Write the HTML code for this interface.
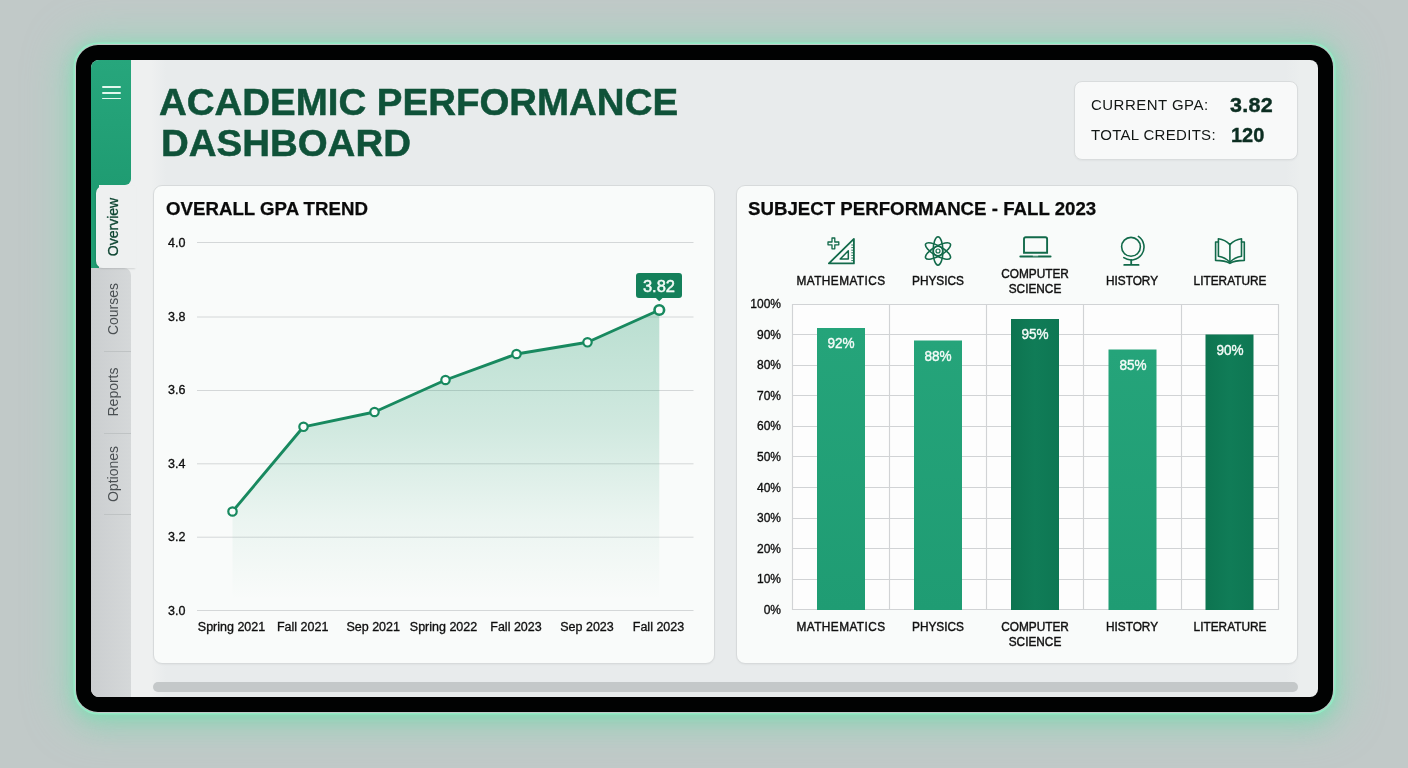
<!DOCTYPE html>
<html lang="en">
<head>
<meta charset="utf-8">
<title>Academic Performance Dashboard</title>
<style>
*{box-sizing:border-box;margin:0;padding:0}
html,body{width:1408px;height:768px;overflow:hidden}
body{position:relative;background:#c1c9c8;font-family:"Liberation Sans",sans-serif;color:#111}
.abs{position:absolute}
.glow{position:absolute;left:75px;top:44px;width:1259px;height:669px;border-radius:23px;
  box-shadow:0 0 0 1.5px #93ebc5,0 1px 12px 2px rgba(120,225,178,.55),0 2px 38px 11px rgba(138,222,186,.56),0 14px 24px -6px rgba(100,205,158,.42)}
.frame{position:absolute;left:76px;top:45px;width:1257px;height:667px;border-radius:22px;background:#010202}
.screen{position:absolute;left:91px;top:60px;width:1227px;height:637px;border-radius:8px;overflow:hidden;
  background:linear-gradient(90deg,#eef0f0 40px,#eef0f0 60px,#e8ebec 75px,#e8ebec calc(100% - 32px),#ebeeee calc(100% - 18px))}
/* everything inside .screen is positioned in page coordinates via this shifted layer */
.layer{position:absolute;left:-91px;top:-60px;width:1408px;height:768px}
.sb-green{left:91px;top:60px;width:40px;height:125px;background:linear-gradient(180deg,#27a67c,#1f9c72);border-bottom-right-radius:6px}
.sb-green2{left:91px;top:180px;width:8px;height:88px;background:#1f9c72}
.sb-gray{left:91px;top:268px;width:40px;height:430px;background:linear-gradient(90deg,#cbced0,#d5d8d9);border-top-right-radius:7px}
.tab-on{left:96px;top:186px;width:40px;height:82px;background:#eef0f0;border-radius:7px 0 0 7px;box-shadow:-1px 1px 2px rgba(0,0,0,.12)}
.sep{left:104px;width:27px;height:1px;background:#bfc3c4}
.vt{position:absolute;white-space:nowrap;transform:translate(-50%,-50%) rotate(-90deg);font-size:14px;color:#4b5053;line-height:1}
.ham{left:102px;width:18.5px;height:1.9px;background:#e2f8ee;border-radius:1px}
h1{position:absolute;left:159px;font-weight:bold;font-size:36px;line-height:36px;color:#0f5239;white-space:nowrap;transform-origin:0 50%;transform:scaleX(1.068);-webkit-text-stroke:.5px #0f5239}
.card{position:absolute;background:#f9fbfa;border:1px solid #d7dadb;border-radius:9px;box-shadow:0 1px 2px rgba(0,0,0,.04)}
.ct{position:absolute;font-weight:bold;font-size:18.6px;line-height:18px;color:#0a0a0a;white-space:nowrap;transform-origin:0 50%;transform:scaleX(1.004);-webkit-text-stroke:.25px #0a0a0a}
.stat-l{position:absolute;left:1091px;font-size:14px;line-height:14px;letter-spacing:.45px;color:#121715;white-space:nowrap;transform-origin:0 50%;transform:scaleX(1.07)}
.stat-v{position:absolute;font-weight:bold;font-size:20px;line-height:20px;color:#0c2e22;white-space:nowrap;transform-origin:0 50%;-webkit-text-stroke:.4px #0c2e22}
.yl{position:absolute;font-size:12.5px;line-height:13px;color:#0e0e0e;white-space:nowrap;-webkit-text-stroke:.32px #0e0e0e}
.xl{position:absolute;font-size:12.5px;line-height:13px;color:#111;white-space:nowrap;transform:translateX(-50%);-webkit-text-stroke:.32px #0e0e0e}
.pl{position:absolute;width:50px;text-align:right;font-size:12px;line-height:12px;color:#0e0e0e;white-space:nowrap;-webkit-text-stroke:.32px #0e0e0e}
.cat{position:absolute;font-size:12.3px;line-height:15.3px;color:#111;text-align:center;white-space:nowrap;transform:translateX(-50%) scaleX(.962);-webkit-text-stroke:.42px #111}
.bar{position:absolute;width:48px}
.bl{position:absolute;color:#f4fbf8;font-size:14.6px;line-height:14px;transform:translateX(-50%) scaleX(.93);white-space:nowrap;-webkit-text-stroke:.4px #f4fbf8}
svg{position:absolute;left:0;top:0;overflow:visible}
</style>
</head>
<body>
<div class="glow"></div>
<div class="frame"></div>
<div class="screen"><div class="layer">

<!-- sidebar -->
<div class="abs sb-gray"></div>
<div class="abs sb-green2"></div>
<div class="abs sb-green"></div>
<div class="abs tab-on"></div>
<div class="abs ham" style="top:85.7px"></div>
<div class="abs ham" style="top:91.7px"></div>
<div class="abs ham" style="top:97.6px"></div>
<div class="vt" style="left:112.5px;top:226.8px;color:#0d4531;-webkit-text-stroke:.3px #0d4531">Overview</div>
<div class="vt" style="left:112.5px;top:309px">Courses</div>
<div class="vt" style="left:112.5px;top:391.5px">Reports</div>
<div class="vt" style="left:112.5px;top:473.5px">Optiones</div>
<div class="abs sep" style="top:351px"></div>
<div class="abs sep" style="top:433px"></div>
<div class="abs sep" style="top:514px"></div>

<!-- header -->
<h1 style="top:84.5px;left:159px">ACADEMIC PERFORMANCE</h1>
<h1 style="top:125.8px;left:160.5px">DASHBOARD</h1>

<div class="card" style="left:1074px;top:81px;width:224px;height:79px;background:#f8f9f9;border-radius:8px;border-color:#d9dcdd"></div>
<div class="stat-l" style="top:98px">CURRENT GPA:</div>
<div class="stat-l" style="top:128px;letter-spacing:.3px">TOTAL CREDITS:</div>
<div class="stat-v" style="left:1230.3px;top:95px;letter-spacing:.3px;transform:scaleX(1.075)">3.82</div>
<div class="stat-v" style="left:1231px;top:125px">120</div>

<!-- cards -->
<div class="card" style="left:153px;top:185px;width:562px;height:478.6px"></div>
<div class="card" style="left:736px;top:185px;width:562px;height:478.6px"></div>
<div class="ct" style="left:166px;top:200px">OVERALL GPA TREND</div>
<div class="ct" style="left:748px;top:200px">SUBJECT PERFORMANCE - FALL 2023</div>

<!-- scrollbar -->
<div class="abs" style="left:153px;top:682px;width:1145px;height:10px;border-radius:5px;background:#c4c8c9"></div>

<!-- LINE CHART -->
<svg width="1408" height="768" viewBox="0 0 1408 768">
  <defs>
    <linearGradient id="ga" x1="0" y1="310" x2="0" y2="600" gradientUnits="userSpaceOnUse">
      <stop offset="0" stop-color="#2c9f74" stop-opacity=".31"/>
      <stop offset=".4" stop-color="#2c9f74" stop-opacity=".2"/>
      <stop offset=".72" stop-color="#2c9f74" stop-opacity=".07"/>
      <stop offset="1" stop-color="#2c9f74" stop-opacity="0"/>
    </linearGradient>
    <linearGradient id="gl" x1="0" y1="0" x2="0" y2="1">
      <stop offset="0" stop-color="#25a47a"/><stop offset="1" stop-color="#1f9c73"/>
    </linearGradient>
    <linearGradient id="gd" x1="0" y1="0" x2="1" y2="0">
      <stop offset="0" stop-color="#0d7450"/><stop offset=".5" stop-color="#107c57"/><stop offset="1" stop-color="#0e7753"/>
    </linearGradient>
  </defs>
  <g stroke="#d4d7d8" stroke-width="1">
    <line x1="197" x2="693.5" y1="242.5" y2="242.5"/>
    <line x1="197" x2="693.5" y1="317" y2="317"/>
    <line x1="197" x2="693.5" y1="390.5" y2="390.5"/>
    <line x1="197" x2="693.5" y1="463.8" y2="463.8"/>
    <line x1="197" x2="693.5" y1="537.2" y2="537.2"/>
    <line x1="197" x2="693.5" y1="610.5" y2="610.5"/>
  </g>
  <path d="M232.5 511.5 L303.5 426.8 L374.5 412 L445.5 380 L516.5 354 L587.5 342.3 L659.3 310 L659.3 600 L232.5 600Z" fill="url(#ga)"/>
  <path d="M232.5 511.5 L303.5 426.8 L374.5 412 L445.5 380 L516.5 354 L587.5 342.3 L659.3 310" fill="none" stroke="#18895f" stroke-width="2.9" stroke-linejoin="round" stroke-linecap="round"/>
  <g fill="#fbfdfc" stroke="#18895f" stroke-width="2.2">
    <circle cx="232.5" cy="511.5" r="4.2"/>
    <circle cx="303.5" cy="426.8" r="4.2"/>
    <circle cx="374.5" cy="412" r="4.2"/>
    <circle cx="445.5" cy="380" r="4.2"/>
    <circle cx="516.5" cy="354" r="4.2"/>
    <circle cx="587.5" cy="342.3" r="4.2"/>
    <circle cx="659.3" cy="310" r="4.8" stroke-width="2.6"/>
  </g>
  <path d="M639 273 h40 a3 3 0 0 1 3 3 v19 a3 3 0 0 1 -3 3 h-16.5 l-3.3 3.2 l-3.3 -3.2 h-16.9 a3 3 0 0 1 -3 -3 v-19 a3 3 0 0 1 3 -3z" fill="#14805a"/>
</svg>
<div class="abs" style="left:636px;top:277.7px;width:46px;text-align:center;font-size:16.5px;line-height:17px;color:#f3fbf7;-webkit-text-stroke:.5px #f3fbf7">3.82</div>

<div class="yl" style="left:168px;top:236.5px">4.0</div>
<div class="yl" style="left:168px;top:310.5px">3.8</div>
<div class="yl" style="left:168px;top:384px">3.6</div>
<div class="yl" style="left:168px;top:457.5px">3.4</div>
<div class="yl" style="left:168px;top:531px">3.2</div>
<div class="yl" style="left:168px;top:604.5px">3.0</div>

<div class="xl" style="left:231.5px;top:620.5px">Spring 2021</div>
<div class="xl" style="left:302.7px;top:620.5px">Fall 2021</div>
<div class="xl" style="left:373.2px;top:620.5px">Sep 2021</div>
<div class="xl" style="left:443.5px;top:620.5px">Spring 2022</div>
<div class="xl" style="left:516px;top:620.5px">Fall 2023</div>
<div class="xl" style="left:587px;top:620.5px">Sep 2023</div>
<div class="xl" style="left:658.5px;top:620.5px">Fall 2023</div>

<!-- BAR CHART -->
<div class="abs" style="left:792px;top:304px;width:487px;height:306px;background:#fdfdfd"></div>
<svg width="1408" height="768" viewBox="0 0 1408 768">
  <g stroke="#d1d3d5" stroke-width="1.15">
    <line x1="792" x2="1279" y1="304.5" y2="304.5"/>
    <line x1="792" x2="1279" y1="334.5" y2="334.5"/>
    <line x1="792" x2="1279" y1="365.5" y2="365.5"/>
    <line x1="792" x2="1279" y1="395.5" y2="395.5"/>
    <line x1="792" x2="1279" y1="426.5" y2="426.5"/>
    <line x1="792" x2="1279" y1="456.5" y2="456.5"/>
    <line x1="792" x2="1279" y1="487.5" y2="487.5"/>
    <line x1="792" x2="1279" y1="518.5" y2="518.5"/>
    <line x1="792" x2="1279" y1="548.5" y2="548.5"/>
    <line x1="792" x2="1279" y1="579.5" y2="579.5"/>
    <line x1="792" x2="1279" y1="609.5" y2="609.5"/>
    <line y1="304" y2="610" x1="792.5" x2="792.5"/>
    <line y1="304" y2="610" x1="889.5" x2="889.5"/>
    <line y1="304" y2="610" x1="986.5" x2="986.5"/>
    <line y1="304" y2="610" x1="1083.5" x2="1083.5"/>
    <line y1="304" y2="610" x1="1181.5" x2="1181.5"/>
    <line y1="304" y2="610" x1="1278.5" x2="1278.5"/>
  </g>
  <rect x="817" y="328" width="48" height="282" fill="url(#gl)"/>
  <rect x="914" y="340.5" width="48" height="269.5" fill="url(#gl)"/>
  <rect x="1011" y="319" width="48" height="291" fill="url(#gd)"/>
  <rect x="1108.5" y="349.5" width="48" height="260.5" fill="url(#gl)"/>
  <rect x="1205.5" y="334.5" width="48" height="275.5" fill="url(#gd)"/>
</svg>

<div class="bl" style="left:841px;top:336px">92%</div>
<div class="bl" style="left:938px;top:348.5px">88%</div>
<div class="bl" style="left:1035px;top:327px">95%</div>
<div class="bl" style="left:1132.5px;top:357.5px">85%</div>
<div class="bl" style="left:1229.5px;top:342.5px">90%</div>

<div class="pl" style="left:731px;top:298px">100%</div>
<div class="pl" style="left:731px;top:328.5px">90%</div>
<div class="pl" style="left:731px;top:359px">80%</div>
<div class="pl" style="left:731px;top:389.5px">70%</div>
<div class="pl" style="left:731px;top:420px">60%</div>
<div class="pl" style="left:731px;top:450.5px">50%</div>
<div class="pl" style="left:731px;top:481.5px">40%</div>
<div class="pl" style="left:731px;top:512px">30%</div>
<div class="pl" style="left:731px;top:542.5px">20%</div>
<div class="pl" style="left:731px;top:573px">10%</div>
<div class="pl" style="left:731px;top:603.5px">0%</div>

<div class="cat" style="left:840.9px;top:273.5px;letter-spacing:.45px">MATHEMATICS</div>
<div class="cat" style="left:938px;top:273.5px">PHYSICS</div>
<div class="cat" style="left:1035px;top:267.2px">COMPUTER<br>SCIENCE</div>
<div class="cat" style="left:1132.3px;top:273.5px">HISTORY</div>
<div class="cat" style="left:1230px;top:273.5px">LITERATURE</div>

<div class="cat" style="left:840.9px;top:619.9px;letter-spacing:.45px">MATHEMATICS</div>
<div class="cat" style="left:938px;top:619.9px">PHYSICS</div>
<div class="cat" style="left:1035px;top:619.9px">COMPUTER<br>SCIENCE</div>
<div class="cat" style="left:1132.3px;top:619.9px">HISTORY</div>
<div class="cat" style="left:1230px;top:619.9px">LITERATURE</div>

<!-- ICONS -->
<svg width="1408" height="768" viewBox="0 0 1408 768" fill="none" stroke="#126a4a" stroke-width="1.7" stroke-linejoin="round" stroke-linecap="round">
  <!-- mathematics: set square + plus -->
  <path d="M828.9 263.4 L853.9 263.4 L853.9 238.9 Z" stroke-width="1.8"/>
  <path d="M840.2 259 L848.3 259 L848.3 250.8 Z" stroke-width="1.5"/>
  <path d="M851.3 245h1.8M851.3 247.6h1.8M851.3 250.2h1.8M851.3 252.8h1.8M851.3 255.4h1.8M851.3 258h1.8M851.3 260.6h1.8" stroke-width=".9" stroke-linecap="butt"/>
  <path d="M832 238h2.8v4h4v2.8h-4v4h-2.8v-4h-4v-2.8h4z" stroke-width="1.3"/>
  <!-- physics: atom -->
  <g stroke-width="1.6">
    <ellipse cx="938" cy="251" rx="4.9" ry="14.2"/>
    <ellipse cx="938" cy="251" rx="4.9" ry="14.2" transform="rotate(60 938 251)"/>
    <ellipse cx="938" cy="251" rx="4.9" ry="14.2" transform="rotate(-60 938 251)"/>
    <circle cx="938" cy="251" r="4.6" stroke-width="1.4"/>
    <circle cx="938" cy="251" r="2" stroke-width="1.2"/>
  </g>
  <!-- computer science: laptop -->
  <path d="M1024 252.8 V238.9 a1.7 1.7 0 0 1 1.7 -1.7 h19.7 a1.7 1.7 0 0 1 1.7 1.7 V252.8 Z" stroke-width="1.9" stroke-linejoin="miter"/>
  <path d="M1020.4 256.5 H1050.5" stroke-width="2.1"/>
  <path d="M1032.8 255.8 H1038.2" stroke="#f9fbfa" stroke-width=".8" stroke-linecap="butt"/>
  <!-- history: globe -->
  <circle cx="1131" cy="246.8" r="9.4" stroke-width="1.6"/>
  <path d="M1138.4 236.4 A12.9 12.9 0 0 1 1123.8 257.7" stroke-width="1.6"/>
  <path d="M1131.2 260 V264.8 M1124.2 264.9 H1138.6" stroke-width="1.8"/>
  <!-- literature: open book -->
  <g stroke-width="1.6">
    <path d="M1229.9 244.6 C1226.5 241 1222.5 239.2 1218.4 238.7 V256.2 C1222.5 256.8 1226.5 258.6 1229.9 262.2 C1233.3 258.6 1237.3 256.8 1241.5 256.2 V238.7 C1237.3 239.2 1233.3 241 1229.9 244.6 Z"/>
    <path d="M1229.9 244.6 V262.2"/>
    <path d="M1218.4 242 H1215.6 V260.4 C1221 260.4 1226 261 1229.9 263.4 C1233.8 261 1238.8 260.4 1244.3 260.4 V242 H1241.5"/>
  </g>
</svg>

</div></div>
</body>
</html>
